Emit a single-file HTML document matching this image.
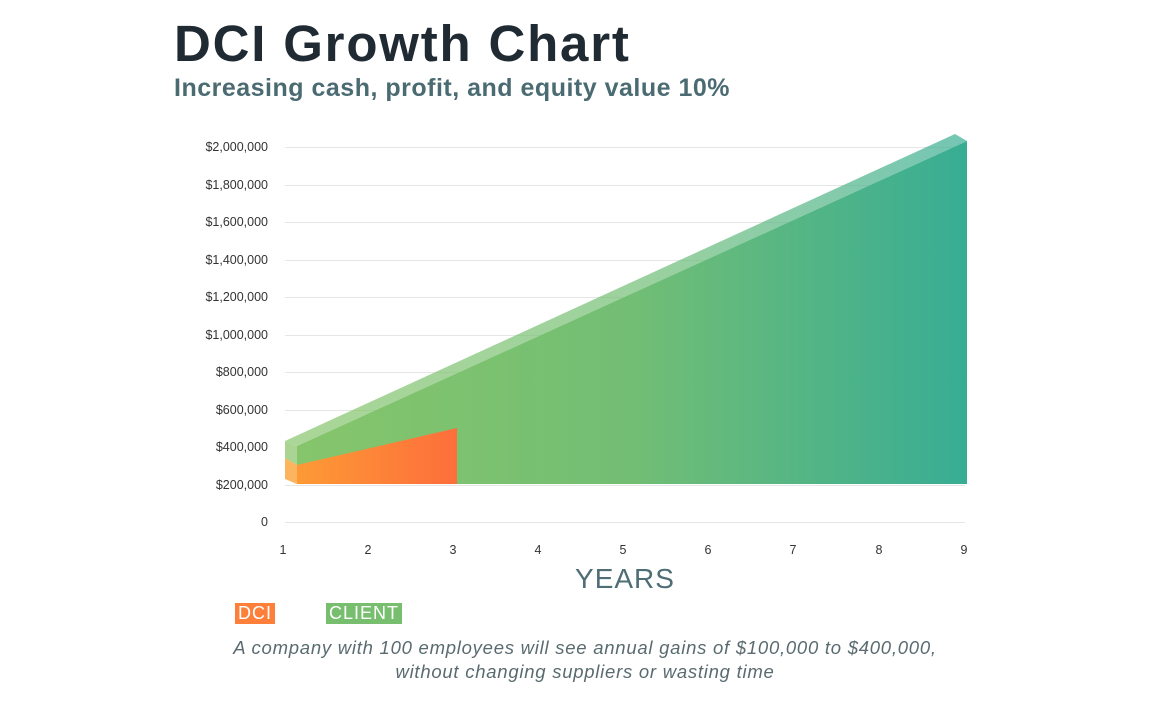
<!DOCTYPE html><html><head><style>
body{margin:0;background:#fff;width:1171px;height:705px;overflow:hidden;font-family:"Liberation Sans",sans-serif;position:relative}
.t{position:absolute;left:174px;top:14px;font-size:51px;font-weight:bold;color:#1f2a33;letter-spacing:1.8px}
.s{position:absolute;left:174px;top:74px;font-size:25px;font-weight:bold;color:#4b6b72;letter-spacing:0.5px}
.y{position:absolute;width:268px;left:0;text-align:right;font-size:12.5px;color:#333}
.x{position:absolute;top:543px;font-size:12.5px;color:#333;width:20px;margin-left:-10px;text-align:center}
.Y{position:absolute;left:525px;width:200px;text-align:center;top:563px;font-size:28px;color:#4f6d75;letter-spacing:1px}
.b{position:absolute;top:603px;height:21px;line-height:21px;color:#fff;font-size:18px;padding:0 3px;letter-spacing:1px}
.c{position:absolute;left:185px;width:800px;text-align:center;top:636px;font-size:18.5px;font-style:italic;color:#5a6b70;line-height:24px;letter-spacing:0.75px}
</style></head><body>
<div class="t">DCI Growth Chart</div>
<div class="s">Increasing cash, profit, and equity value 10%</div>
<svg width="1171" height="705" style="position:absolute;left:0;top:0">
<defs>
<linearGradient id="g" x1="297" x2="967" y1="0" y2="0" gradientUnits="userSpaceOnUse"><stop offset="0" stop-color="#86c56b"/><stop offset="0.5" stop-color="#72be74"/><stop offset="1" stop-color="#38ad94"/></linearGradient>
<linearGradient id="o" x1="297" x2="457" y1="0" y2="0" gradientUnits="userSpaceOnUse"><stop offset="0" stop-color="#fd9a35"/><stop offset="1" stop-color="#fd6e3b"/></linearGradient>
</defs>
<g stroke="#e6e6e6" stroke-width="1">
<line x1="285" x2="965" y1="147.5" y2="147.5"/><line x1="285" x2="965" y1="185.5" y2="185.5"/><line x1="285" x2="965" y1="222.5" y2="222.5"/><line x1="285" x2="965" y1="260.5" y2="260.5"/><line x1="285" x2="965" y1="297.5" y2="297.5"/><line x1="285" x2="965" y1="335.5" y2="335.5"/><line x1="285" x2="965" y1="372.5" y2="372.5"/><line x1="285" x2="965" y1="410.5" y2="410.5"/><line x1="285" x2="965" y1="447.5" y2="447.5"/><line x1="285" x2="965" y1="485.5" y2="485.5"/><line x1="285" x2="965" y1="522.5" y2="522.5"/>
</g>
<polygon points="285,441 955,134 967,141 297,446" fill="url(#g)" opacity="0.7"/>
<polygon points="297,446 967,141 967,484 297,484" fill="url(#g)"/>
<polygon points="285,441 297,446 297,465 285,458" fill="#a9d493"/>
<polygon points="285,458 297,465 297,484 285,479" fill="#fdb45e"/>
<polygon points="297,465 457,428 457,484 297,484" fill="url(#o)"/>
</svg>
<div class="y" style="top:140px">$2,000,000</div>
<div class="y" style="top:178px">$1,800,000</div>
<div class="y" style="top:215px">$1,600,000</div>
<div class="y" style="top:253px">$1,400,000</div>
<div class="y" style="top:290px">$1,200,000</div>
<div class="y" style="top:328px">$1,000,000</div>
<div class="y" style="top:365px">$800,000</div>
<div class="y" style="top:403px">$600,000</div>
<div class="y" style="top:440px">$400,000</div>
<div class="y" style="top:478px">$200,000</div>
<div class="y" style="top:515px">0</div>
<div class="x" style="left:283px">1</div><div class="x" style="left:368px">2</div><div class="x" style="left:453px">3</div><div class="x" style="left:538px">4</div><div class="x" style="left:623px">5</div><div class="x" style="left:708px">6</div><div class="x" style="left:793px">7</div><div class="x" style="left:879px">8</div><div class="x" style="left:964px">9</div>
<div class="Y">YEARS</div>
<div class="b" style="left:235px;background:#fd7f3a">DCI</div>
<div class="b" style="left:326px;background:#77bf6f">CLIENT</div>
<div class="c">A company with 100 employees will see annual gains of $100,000 to $400,000,<br>without changing suppliers or wasting time</div>
</body></html>
